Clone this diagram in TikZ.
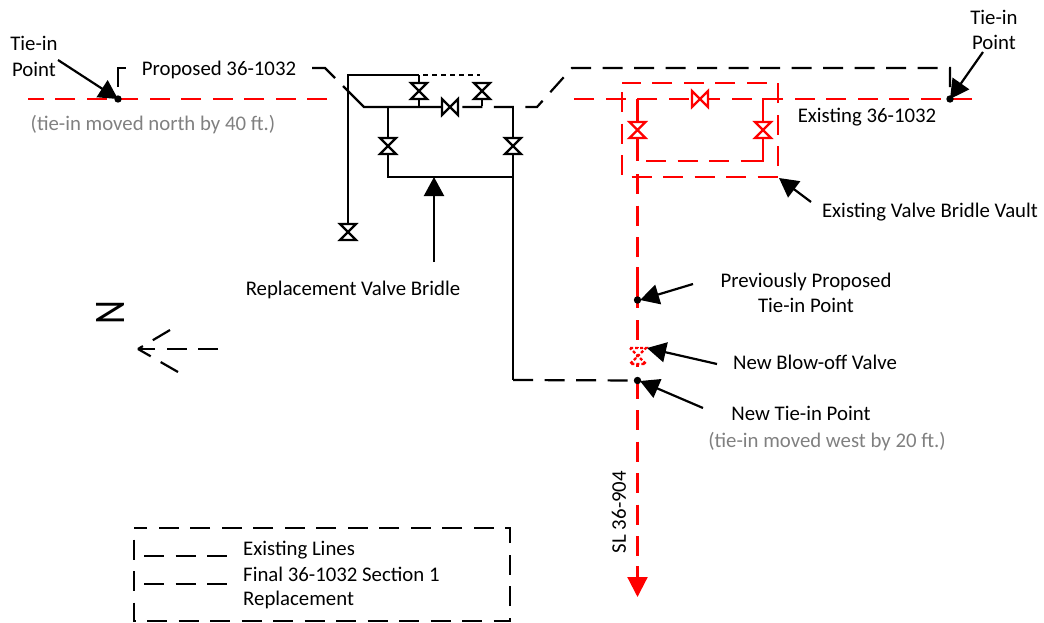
\documentclass[tikz,border=0pt]{standalone}
\usepackage{fontspec}
\setmainfont{Carlito}
\usetikzlibrary{arrows.meta}
\tikzset{
	pipe/.style={line width=2.2pt,dash pattern=on 20pt off 11.5pt},
	line/.style={line width=2.2pt},
	stub/.style={line width=2.2pt,dash pattern=on 9pt off 3pt},
	dots/.style={line width=2.2pt,dash pattern=on 5pt off 4pt},
	pointer/.style={line width=2.2pt,-{Triangle[length=19pt,width=20pt]}},
	label/.style={font=\fontsize{20.8}{25.5}\selectfont,align=center,inner sep=0pt},
	note/.style={label,text=gray},
	pics/valve/.style={code={
		\draw[line width=2.2pt,fill=white,#1] (-8,-8) -- (8,-8) -- (-8,8) -- (8,8) -- cycle;
	}},
	pics/valve/.default={}
}

\begin{document}
\begin{tikzpicture}[x=1pt,y=-1pt]
	\useasboundingbox (0,0) rectangle (1044,622);

	% pipe corners
	\coordinate (WestEnd) at (28,99);
	\coordinate (WestCut) at (327,99);
	\coordinate (EastCut) at (567,99);
	\coordinate (EastEnd) at (972,99);
	\coordinate (WestTie) at (118,99);
	\coordinate (EastTie) at (950,99);
	\coordinate (OldTie) at (637.5,300);
	\coordinate (NewTie) at (637.5,380.5);
	\coordinate (Tap) at (637.5,174);
	\coordinate (TapEnd) at (637.5,597);

	\draw[pipe,red] (WestCut) -- (WestEnd);
	\draw[pipe,red] (EastEnd) -- (EastCut);

	% existing bridle and vault
	\draw[pipe,red,dash phase=22.5pt] (622,83) rectangle (778,177);
	\draw[pipe,red] (646,161) -- (763,161);
	\draw[line,red] (741,161) -- (763,161) -- (763,99) -- (775,99);
	\draw[line,red] (637.5,99) -- (637.5,161);
	\draw[pipe,red] (Tap) -- (637.5,267);
	\draw[line,red] (637.5,267) -- (637.5,308);
	\draw[line,red] (637.5,320) -- (637.5,340);
	\draw[pipe,red] (637.5,347) -- (637.5,556);
	\draw[line,red,-{Triangle[length=20pt,width=20pt]}] (637.5,566) -- (TapEnd);
	\pic at (637.5,130) {valve={draw=red}};
	\pic at (763,130) {valve={draw=red}};
	\pic[rotate=90] at (700,99) {valve={draw=red}};
	\pic at (638,356) {valve={draw=red,dash pattern=on 3pt off 2pt}};

	% proposed line
	\draw[pipe] (950,87) -- (950,68) -- (572,68) -- (537,107) -- (442,107);
	\draw[line] (118,87) -- (118,68) -- (126,68);
	\draw[line] (310,68) -- (325,68) -- (335,78);
	\draw[line] (343,86) -- (364,107) -- (442,107);

	% replacement bridle
	\draw[line] (419,75) -- (348,75) -- (348,232);
	\draw[dots] (423,75) -- (480,75);
	\draw[stub] (419,75) -- (419,107);
	\draw[stub] (482,85) -- (482,107);
	\draw[line] (388,107) -- (388,177) -- (513,177);
	\draw[line] (513,107) -- (513,380);
	\draw[pipe] (513,380) -- (NewTie);
	\pic at (348,232) {valve};
	\pic at (419,91) {valve};
	\pic at (482,91) {valve};
	\pic at (388,146) {valve};
	\pic at (513,146) {valve};
	\pic[rotate=90] at (450,107) {valve};

	% tie-in points
	\foreach \tie in {WestTie,EastTie,OldTie,NewTie}
		\fill (\tie) circle (3.7);

	\begin{scope}[every node/.style={label}]
		\node (WestLabel) at (34,56.5) {Tie-in\\Point};
		\node (EastLabel) at (994,30) {Tie-in\\Point};
		\node[fill=white,inner xsep=16pt,inner ysep=1pt] (Proposed) at (219,70) {Proposed 36-1032};
		\node (Existing) at (867,117) {Existing 36-1032};
		\node (Vault) at (930,212) {Existing Valve Bridle Vault};
		\node (Bridle) at (353,290) {Replacement Valve Bridle};
		\node (OldPoint) at (806,293) {Previously Proposed\\Tie-in Point};
		\node (BlowOff) at (815,362) {New Blow-off Valve};
		\node (NewPoint) at (801,413) {New Tie-in Point};
		\node[rotate=90] (SL) at (619,512) {SL 36-904};
	\end{scope}
	\node[note] (WestNote) at (153,125) {(tie-in moved north by 40 ft.)};
	\node[note] (NewNote) at (827,442) {(tie-in moved west by 20 ft.)};

	% pointers
	\coordinate (WestFrom) at (58,60);
	\coordinate (EastFrom) at (983,52);
	\coordinate (VaultFrom) at (811,202);
	\coordinate (BridleFrom) at (434,262);
	\coordinate (OldFrom) at (693,284);
	\coordinate (BlowFrom) at (717,364);
	\coordinate (NewFrom) at (703,408);
	\draw[pointer] (WestFrom) -- (WestTie);
	\draw[pointer] (EastFrom) -- (EastTie);
	\draw[pointer] (VaultFrom) -- (779,178);
	\draw[pointer] (BridleFrom) -- (434,177);
	\draw[pointer] (OldFrom) -- (640,300);
	\draw[pointer] (BlowFrom) -- (647,348);
	\draw[pointer] (NewFrom) -- (640,381);

	% north mark
	\node[rotate=90,inner sep=0pt,font=\fontsize{37}{37}\selectfont] (North) at (110.5,312.5) {\scalebox{1}[1.18]{N}};
	\coordinate (NorthTip) at (138,349);
	\draw[pipe] (218,349) -- (NorthTip);
	\draw[pipe] (170,330) -- (NorthTip);
	\draw[pipe] (178,372) -- (NorthTip);

	% legend
	\draw[pipe,dash phase=20pt] (134,528) rectangle (510,621);
	\draw[pipe] (144,556) -- (228,556);
	\draw[pipe] (144,584) -- (228,584);
	\begin{scope}[every node/.style={label,anchor=west}]
		\node (KeyOne) at (243,550) {Existing Lines};
		\node (KeyTwo) at (243,574) {Final 36-1032 Section 1};
		\node (KeyThree) at (243,600) {Replacement};
	\end{scope}
\end{tikzpicture}
\end{document}
